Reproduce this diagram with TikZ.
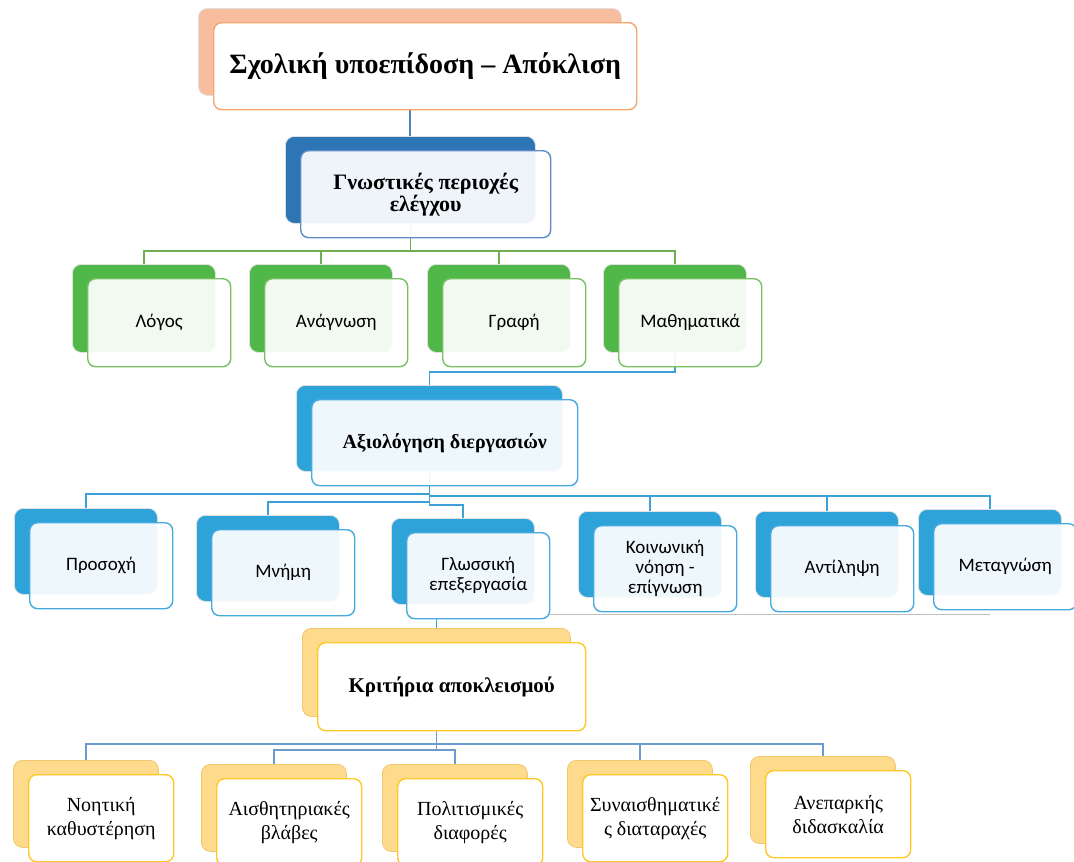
\documentclass[tikz,border=0pt]{standalone}
\usepackage{fontspec}
\setmainfont{Liberation Serif}
\newfontfamily\calib{Carlito}

\pgfdeclarelayer{background}
\pgfsetlayers{background,main}

\definecolor{salmonback}{RGB}{248,188,158}
\definecolor{salmonline}{RGB}{244,166,110}
\definecolor{navyback}{RGB}{46,117,182}
\definecolor{navyline}{RGB}{95,140,200}
\definecolor{grassback}{RGB}{80,184,72}
\definecolor{grassline}{RGB}{120,192,100}
\definecolor{skyback}{RGB}{45,163,218}
\definecolor{skyline}{RGB}{70,170,222}
\definecolor{goldback}{RGB}{253,218,140}
\definecolor{goldedge}{RGB}{240,198,110}
\definecolor{goldline}{RGB}{255,200,40}
\definecolor{linkblue}{RGB}{74,130,195}
\definecolor{linksky}{RGB}{60,160,218}
\definecolor{linkgrass}{RGB}{110,176,80}

\tikzset{
  backbox/.style={rounded corners=9pt, draw=black!12, line width=0.8pt,
    inner sep=0pt, anchor=north west},
  frontbox/.style={rounded corners=8pt, line width=1.4pt, inner sep=0pt,
    anchor=north west, align=center, text opacity=1},
  salmonb/.style={backbox, fill=salmonback},
  salmonf/.style={frontbox, draw=salmonline, fill=white},
  navyb/.style={backbox, fill=navyback},
  navyf/.style={frontbox, draw=navyline, fill=white, fill opacity=0.92},
  grassb/.style={backbox, fill=grassback},
  grassf/.style={frontbox, draw=grassline, fill=white, fill opacity=0.92},
  skyb/.style={backbox, fill=skyback},
  skyf/.style={frontbox, draw=skyline, fill=white, fill opacity=0.92},
  goldb/.style={backbox, fill=goldback, draw=goldedge},
  goldf/.style={frontbox, draw=goldline, fill=white},
  headfont/.style={font=\fontsize{#1}{22}\selectfont\bfseries},
  leaffont/.style={font=\calib\fontsize{19}{20}\selectfont},
  critfont/.style={font=\fontsize{20}{24}\selectfont},
  link/.style={line width=1.3pt},
}

% back box + front box with the label
\newcommand{\dualbox}[8]{%
  \node[#2b, minimum width=#5pt, minimum height=#6pt] (#1-b) at (#3,#4) {};%
  \node[#2f, #7, minimum width=#5pt, minimum height=#6pt] (#1)
    at ([xshift=15pt,yshift=-14pt]#1-b.north west) {#8};%
}

\begin{document}
\begin{tikzpicture}[x=1pt,y=-1pt]
  \useasboundingbox (0,0) rectangle (1074,862);
  %
  \dualbox{top}{salmon}{198}{8}{423}{87}{headfont=28}{Σχολική υποεπίδοση – Απόκλιση}
  \dualbox{gnost}{navy}{285}{136}{250}{87}{headfont=22}{Γνωστικές περιοχές\\ελέγχου}
  %
  \dualbox{logos}{grass}{72}{264}{143}{88}{leaffont}{Λόγος}
  \dualbox{anagn}{grass}{249}{264}{143}{88}{leaffont}{Ανάγνωση}
  \dualbox{grafi}{grass}{427}{264}{143}{88}{leaffont}{Γραφή}
  \dualbox{math}{grass}{603}{264}{143}{88}{leaffont}{Μαθηματικά}
  %
  \dualbox{eval}{sky}{296}{385}{266}{86}{headfont=20}{Αξιολόγηση διεργασιών}
  %
  \dualbox{prosoxi}{sky}{14}{508}{143}{86}{leaffont}{Προσοχή}
  \dualbox{mnimi}{sky}{196}{515}{143}{86}{leaffont}{Μνήμη}
  \dualbox{gloss}{sky}{391}{518}{143}{86}{leaffont}{Γλωσσική\\επεξεργασία}
  \dualbox{koin}{sky}{578}{511}{143}{86}{leaffont}{Κοινωνική\\νόηση -\\επίγνωση}
  \dualbox{antil}{sky}{755}{511}{143}{86}{leaffont}{Αντίληψη}
  \dualbox{metagn}{sky}{918}{509}{143}{86}{leaffont}{Μεταγνώση}
  %
  \dualbox{krit}{gold}{302}{628}{268}{88}{headfont=21}{Κριτήρια αποκλεισμού}
  %
  \dualbox{noit}{gold}{13}{760}{145}{87}{critfont}{Νοητική\\καθυστέρηση}
  \dualbox{aisth}{gold}{201}{764}{145}{87}{critfont}{Αισθητηριακές\\βλάβες}
  \dualbox{polit}{gold}{382}{764}{145}{87}{critfont}{Πολιτισμικές\\διαφορές}
  \dualbox{synais}{gold}{567}{760}{145}{87}{critfont}{Συναισθηματικέ\\ς διαταραχές}
  \dualbox{anep}{gold}{750}{756}{145}{87}{critfont}{Ανεπαρκής\\διδασκαλία}
  %
  \begin{pgfonlayer}{background}
    \draw[link, linkblue] (top-b.center) -- (top-b.center |- gnost-b.north);
    \foreach \c in {logos,anagn,grafi,math}
      \draw[link, linkgrass] (gnost-b.center) |- ([yshift=13pt]\c-b.north) -- (\c-b.north);
    \draw[link, linksky] (math-b.center) |- ([yshift=13pt]eval-b.north) -- (eval-b.north);
    \foreach \c/\s in {prosoxi/14,mnimi/13,gloss/13,koin/15,antil/15,metagn/13}
      \draw[link, linksky] (eval-b.center) |- ([yshift=\s pt]\c-b.north) -- (\c-b.north);
    \draw[link, linksky] (krit-b.center) -- (krit-b.center |- gloss.south);
    \draw[line width=1pt, black!25] ([yshift=5pt]gloss.south east)
      -- ([yshift=5pt]gloss.south east -| metagn-b.center);
    \foreach \c/\s in {noit/16,aisth/14,polit/14,synais/16,anep/12}
      \draw[link, linkblue!80] (krit-b.center) |- ([yshift=\s pt]\c-b.north) -- (\c-b.north);
  \end{pgfonlayer}
\end{tikzpicture}
\end{document}
